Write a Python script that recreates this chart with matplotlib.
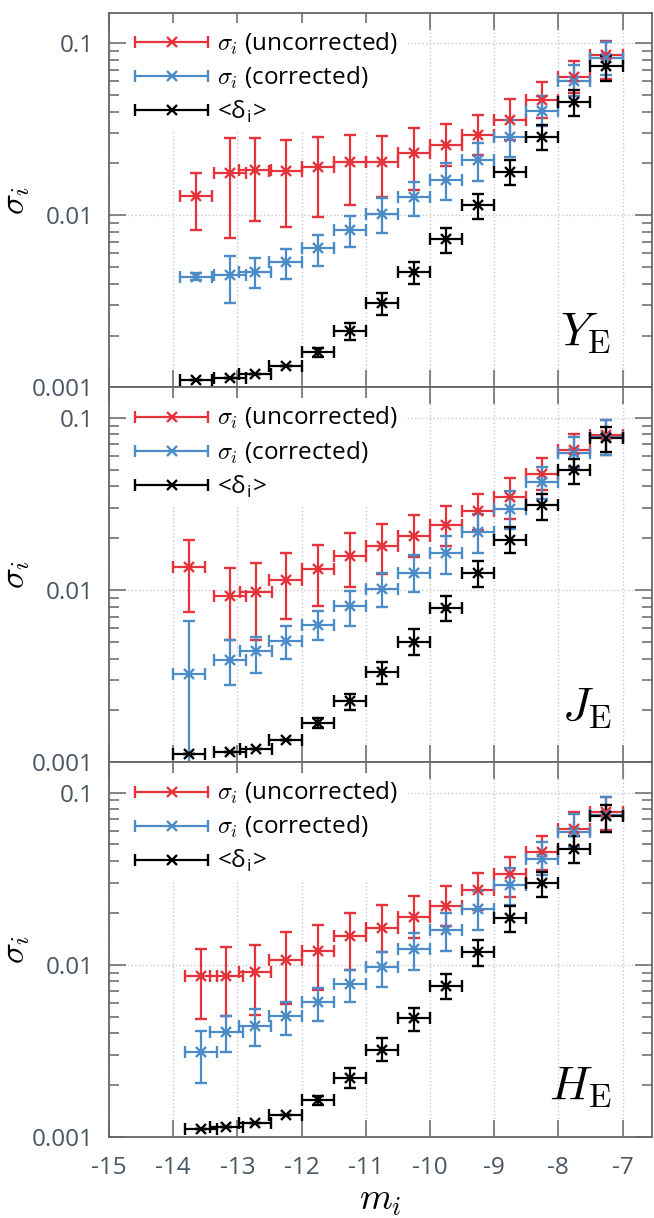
import numpy as np
import matplotlib
matplotlib.use('Agg')
import matplotlib.pyplot as plt
from matplotlib.container import ErrorbarContainer
from matplotlib.legend_handler import HandlerErrorbar
from matplotlib.ticker import FixedLocator, FuncFormatter, LogLocator, NullFormatter

plt.rcParams['font.family'] = ['Open Sans', 'DejaVu Sans']
plt.rcParams['mathtext.fontset'] = 'cm'
plt.rcParams['axes.unicode_minus'] = False

# magnitude bins (x) for each band
m_Y = [-13.65, -13.12, -12.73, -12.25, -11.75, -11.25, -10.75, -10.25, -9.75, -9.25, -8.75, -8.25, -7.75, -7.25]
m_J = [-13.76, -13.12, -12.71, -12.25, -11.75, -11.25, -10.75, -10.25, -9.75, -9.25, -8.75, -8.25, -7.75, -7.25]
m_H = [-13.56, -13.17, -12.73, -12.25, -11.75, -11.25, -10.75, -10.25, -9.75, -9.25, -8.75, -8.25, -7.75, -7.25]
m_halfwidth = 0.25

# Y band
unc_Y = [0.0129, 0.0175, 0.0184, 0.0180, 0.0190, 0.0203, 0.0205, 0.0229, 0.0255, 0.0293, 0.0358, 0.0469, 0.0631, 0.0855]
unc_Y_lo = [0.0082, 0.0074, 0.0093, 0.0086, 0.0097, 0.0114, 0.0128, 0.0140, 0.0192, 0.0224, 0.0274, 0.0366, 0.0511, 0.0618]
unc_Y_hi = [0.0177, 0.0281, 0.0281, 0.0274, 0.0286, 0.0293, 0.0290, 0.0323, 0.0340, 0.0383, 0.0472, 0.0596, 0.0789, 0.103]
cor_Y = [0.00437, 0.00448, 0.0047, 0.00538, 0.00643, 0.00822, 0.0102, 0.0127, 0.0160, 0.0210, 0.0284, 0.0401, 0.0598, 0.0818]
cor_Y_lo = [0.0042, 0.00308, 0.00377, 0.00425, 0.00509, 0.00652, 0.00785, 0.0099, 0.0123, 0.0157, 0.0219, 0.0328, 0.049, 0.0655]
cor_Y_hi = [0.0046, 0.0058, 0.00567, 0.00634, 0.00769, 0.00996, 0.0126, 0.0155, 0.020, 0.0262, 0.0358, 0.049, 0.0748, 0.101]
dlt_Y = [0.0011, 0.00114, 0.0012, 0.00133, 0.0016, 0.00213, 0.00308, 0.00465, 0.00725, 0.0114, 0.0179, 0.0283, 0.0454, 0.0731]
dlt_Y_lo = [0.0011, 0.00114, 0.0012, 0.00133, 0.0015, 0.00188, 0.00264, 0.00397, 0.0060, 0.00953, 0.015, 0.0238, 0.0379, 0.0604]
dlt_Y_hi = [0.0011, 0.00114, 0.0012, 0.00133, 0.0017, 0.00236, 0.00355, 0.00538, 0.0084, 0.0132, 0.021, 0.0335, 0.0536, 0.0836]

# J band
unc_J = [0.0136, 0.00917, 0.0098, 0.0115, 0.0133, 0.0157, 0.0181, 0.0207, 0.0237, 0.0287, 0.0349, 0.0469, 0.0646, 0.0789]
unc_J_lo = [0.00743, 0.0051, 0.0051, 0.00675, 0.0081, 0.0104, 0.0124, 0.0155, 0.0181, 0.0224, 0.0259, 0.0379, 0.0521, 0.0612]
unc_J_hi = [0.0195, 0.0134, 0.0143, 0.0164, 0.0183, 0.0215, 0.0242, 0.0271, 0.0306, 0.0362, 0.0447, 0.0586, 0.080, 0.0973]
cor_J = [0.00326, 0.0039, 0.00442, 0.00505, 0.00628, 0.00806, 0.0102, 0.0126, 0.0164, 0.0217, 0.0296, 0.0423, 0.0623, 0.0773]
cor_J_lo = [0.0009, 0.00279, 0.0033, 0.00398, 0.0051, 0.00617, 0.00802, 0.0097, 0.0124, 0.0164, 0.0226, 0.0339, 0.0513, 0.0604]
cor_J_hi = [0.00665, 0.0051, 0.00537, 0.00622, 0.0076, 0.00993, 0.0125, 0.0159, 0.0207, 0.0277, 0.0378, 0.0521, 0.0773, 0.0973]
dlt_J = [0.00111, 0.00115, 0.00119, 0.00135, 0.00169, 0.00226, 0.00333, 0.00502, 0.00785, 0.0126, 0.0195, 0.0313, 0.0499, 0.0766]
dlt_J_lo = [0.00111, 0.00115, 0.00119, 0.00135, 0.00158, 0.0020, 0.00285, 0.00421, 0.00659, 0.0104, 0.0164, 0.0256, 0.0414, 0.0631]
dlt_J_hi = [0.00111, 0.00115, 0.00119, 0.00135, 0.00181, 0.00249, 0.00381, 0.00594, 0.0092, 0.0147, 0.0232, 0.0362, 0.0578, 0.0882]

# H band
unc_H = [0.00855, 0.00855, 0.00906, 0.0107, 0.0121, 0.0146, 0.0163, 0.0189, 0.0220, 0.0270, 0.0336, 0.0449, 0.0616, 0.0776]
unc_H_lo = [0.00484, 0.00506, 0.00513, 0.00594, 0.00716, 0.00935, 0.0119, 0.0143, 0.0167, 0.0208, 0.0249, 0.0356, 0.0491, 0.0607]
unc_H_hi = [0.0123, 0.0127, 0.0131, 0.0155, 0.0171, 0.020, 0.0221, 0.0251, 0.0285, 0.034, 0.0421, 0.0556, 0.0766, 0.0948]
cor_H = [0.00313, 0.00405, 0.00444, 0.00501, 0.00604, 0.00772, 0.00969, 0.0123, 0.0160, 0.0210, 0.0290, 0.0412, 0.0594, 0.0741]
cor_H_lo = [0.00207, 0.0031, 0.00339, 0.00393, 0.00473, 0.00612, 0.00741, 0.00935, 0.0121, 0.016, 0.0223, 0.0333, 0.0482, 0.0594]
cor_H_hi = [0.00415, 0.00506, 0.0055, 0.00607, 0.00732, 0.00935, 0.0119, 0.0153, 0.020, 0.0267, 0.0364, 0.0513, 0.0748, 0.0948]
dlt_H = [0.00111, 0.00115, 0.0012, 0.00134, 0.00163, 0.0022, 0.00321, 0.00491, 0.00755, 0.0119, 0.0187, 0.0298, 0.0469, 0.0733]
dlt_H_lo = [0.00111, 0.00115, 0.0012, 0.00134, 0.00153, 0.00192, 0.00275, 0.0041, 0.00632, 0.00986, 0.0156, 0.0247, 0.0389, 0.0594]
dlt_H_hi = [0.00111, 0.00115, 0.0012, 0.00134, 0.00174, 0.00251, 0.00376, 0.00561, 0.00887, 0.014, 0.022, 0.0348, 0.0561, 0.0848]

series_labels = [r'$\sigma_i$ (uncorrected)', r'$\sigma_i$ (corrected)', r'<δ$_\mathregular{i}$>']
colors = ['#e5323b', '#4b8bc8', '#000000']
band_labels = [r'$Y_\mathrm{E}$', r'$J_\mathrm{E}$', r'$H_\mathrm{E}$']
x_ticks = [-15, -14, -13, -12, -11, -10, -9, -8, -7]

panels = [
    (m_Y, [(unc_Y, unc_Y_lo, unc_Y_hi), (cor_Y, cor_Y_lo, cor_Y_hi), (dlt_Y, dlt_Y_lo, dlt_Y_hi)]),
    (m_J, [(unc_J, unc_J_lo, unc_J_hi), (cor_J, cor_J_lo, cor_J_hi), (dlt_J, dlt_J_lo, dlt_J_hi)]),
    (m_H, [(unc_H, unc_H_lo, unc_H_hi), (cor_H, cor_H_lo, cor_H_hi), (dlt_H, dlt_H_lo, dlt_H_hi)]),
]

tick_col = '#4a5563'
spine_col = '#666666'
fs = 17.5

fig, axes = plt.subplots(3, 1, sharex=True, figsize=(6.54, 12.18), dpi=100)
fig.subplots_adjust(left=0.1667, right=0.997, bottom=0.0665, top=0.9896, hspace=0)

for k, ax in enumerate(axes):
    m, series = panels[k]
    m = np.array(m)
    handles = []
    for (y, lo, hi), col, lab in zip(series, colors, series_labels):
        y = np.array(y); lo = np.array(lo); hi = np.array(hi)
        ax.errorbar(m, y, xerr=m_halfwidth, yerr=[y - lo, hi - y], fmt='x', color=col,
                    ms=7.5, mew=1.7, elinewidth=1.6, capsize=4.6, capthick=1.6, zorder=3)
        # legend proxy with horizontal bar only
        h = ax.errorbar([np.nan], [np.nan], xerr=[0.25], fmt='x', color=col,
                        ms=7.5, mew=1.7, elinewidth=1.6, capsize=4.6, capthick=1.6, label=lab)
        handles.append(h)

    ax.set_yscale('log')
    ax.set_ylim(0.001, 0.15)
    ax.set_xlim(-15, -6.54)
    ax.xaxis.set_major_locator(FixedLocator(x_ticks))
    ax.yaxis.set_major_locator(FixedLocator([0.001, 0.01, 0.1]))
    ax.yaxis.set_major_formatter(FuncFormatter(lambda v, p: {0.001: '0.001', 0.01: '0.01', 0.1: '0.1'}.get(round(v, 3), '')))
    ax.yaxis.set_minor_locator(LogLocator(base=10, subs=np.arange(2, 10)))
    ax.yaxis.set_minor_formatter(NullFormatter())
    ax.tick_params(which='both', direction='in', top=True, right=True, color=spine_col,
                   labelcolor=tick_col, labelsize=fs, width=1.1)
    ax.tick_params(which='major', length=12)
    ax.tick_params(which='minor', length=7)
    ax.tick_params(axis='x', which='major', pad=14)
    ax.tick_params(axis='y', which='major', pad=11)
    ax.grid(True, which='major', linestyle=':', color='#c8c8c8', linewidth=1.0)
    ax.set_axisbelow(True)
    for s in ax.spines.values():
        s.set_color(spine_col)
        s.set_linewidth(1.3)
    ax.set_ylabel(r'$\sigma_i$', fontsize=25)
    ax.yaxis.set_label_coords(-0.142, 0.5)

    leg = ax.legend(handles=handles, loc='upper left', bbox_to_anchor=(0.035, 0.972),
                    fontsize=fs, numpoints=1, handlelength=3.0, handletextpad=0.38,
                    labelspacing=0.33, borderaxespad=0, borderpad=0.3,
                    frameon=True, fancybox=False, facecolor='white', edgecolor='none',
                    framealpha=1,
                    handler_map={ErrorbarContainer: HandlerErrorbar(xerr_size=1.5)})
    leg.set_zorder(5)

    ax.text(0.925, [0.11, 0.11, 0.10][k], band_labels[k], transform=ax.transAxes,
            ha='right', va='baseline', fontsize=34)

axes[-1].set_xlabel(r'$m_i$', fontsize=27, labelpad=0)

fig.savefig('out.png', dpi=100)
